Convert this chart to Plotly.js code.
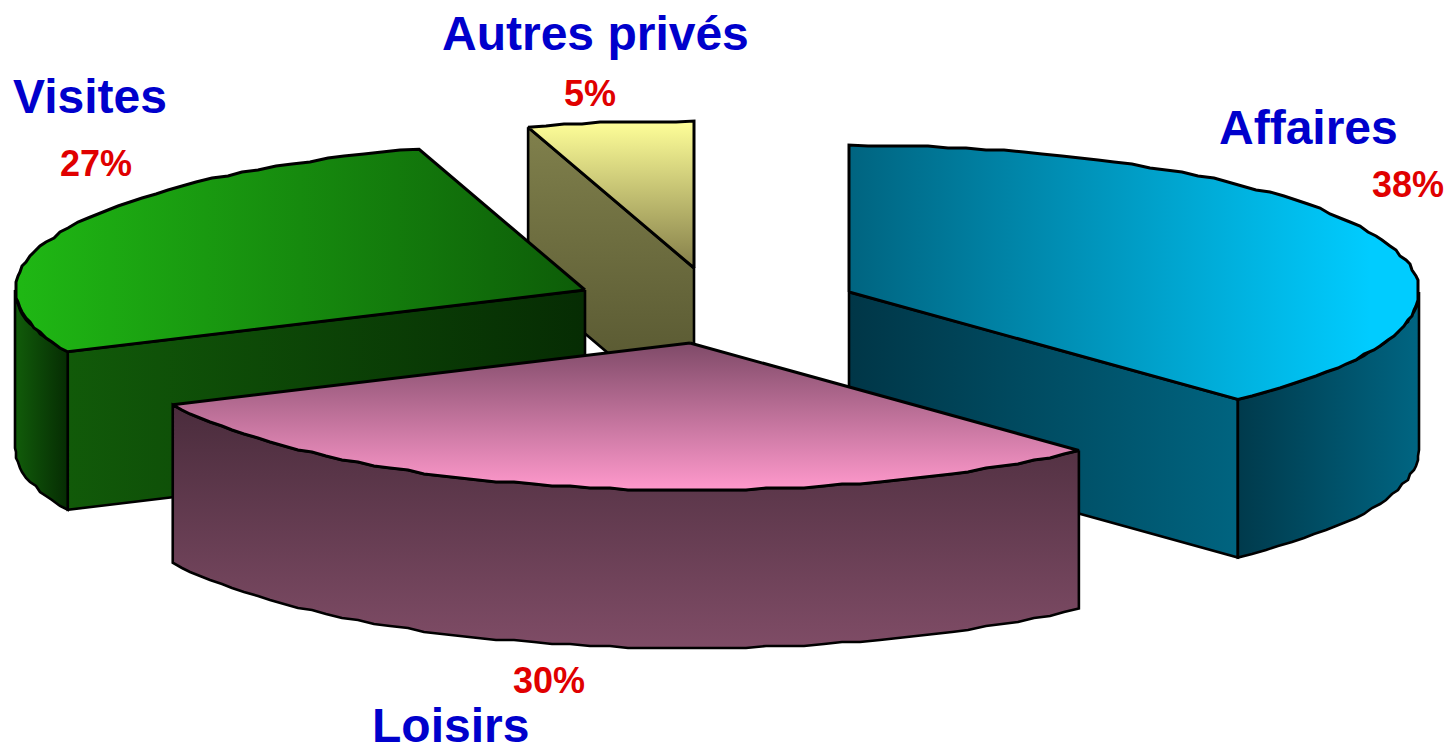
<!DOCTYPE html>
<html>
<head>
<meta charset="utf-8">
<script src="https://cdn.plot.ly/plotly-3.0.1.min.js"></script>
<style>html,body{margin:0;padding:0;background:#fff;overflow:hidden}#chart{width:1448px;height:746px}</style>
</head>
<body>
<div id="chart"></div>
<script>
// Data
const categories = ["Affaires", "Loisirs", "Visites", "Autres privés"];
const shares = [38.05, 30.05, 27.2, 4.7];

// Exploded apex of each slice (pie plane, in axis units)
const apexX = [849, 690, 585, 694];
const apexY = [292, 343, 290, 268];
const radiusX = 570, radiusY = 147, depth = 158;

// Gradient colours per slice
const topFrom  = ["#006480", "#7f4a68", "#1fb814", "#ffff99"];
const topTo    = ["#00ccff", "#ff99cc", "#0d5c08", "#857f4a"];
const sideFrom = ["#003a4c", "#4a2c3c", "#115c0a", "#80804c"];
const sideTo   = ["#006582", "#7f4c66", "#062c03", "#50502c"];
const faceFrom = ["#003647", null, "#115a09", "#80804c"];
const faceTo   = ["#006480", null, "#062c03", "#50502c"];
const topGradientStop = [1370, null, null, null];

// Label placement
const nameX = [1308, 450, 90, 595];
const nameY = [127, 725, 96, 33];
const pctX = [1408, 549, 96, 590];
const pctY = [184, 680, 163, 93];

const total = shares.reduce((a, b) => a + b, 0);
const startAngle = [], endAngle = [];
let acc = 0;
shares.forEach(s => { startAngle.push(acc); acc += s / total * 360; endAngle.push(acc); });

const grid = 2;
const snap = v => Math.round(v / grid) * grid;
function rimPoint(i, deg, drop) {
  const r = deg * Math.PI / 180;
  return [apexX[i] + radiusX * Math.sin(r), apexY[i] - radiusY * Math.cos(r) + drop];
}
function arc(i, a0, a1, drop) {
  const pts = [], n = Math.max(1, Math.ceil(Math.abs(a1 - a0) / 2));
  for (let k = 0; k <= n; k++) {
    const p = rimPoint(i, a0 + (a1 - a0) * k / n, drop);
    pts.push(k === 0 || k === n ? p : [snap(p[0]), snap(p[1])]);
  }
  return pts;
}
function poly(pts, name, type, from, to, width, stop) {
  const c = pts.concat([pts[0]]);
  // the y axis runs downwards, so a vertical gradient is given bottom colour first
  const scale = type === "vertical" ? [[0, to], [1, from]] : [[0, from], [1, to]];
  const gradient = {type: type, colorscale: scale};
  if (stop) gradient.stop = stop;
  return {
    type: "scatter", mode: "lines", name: name, hoverinfo: "skip", showlegend: false, cliponaxis: false,
    x: c.map(p => p[0]), y: c.map(p => p[1]),
    line: {color: "#000", width: width || 2.6, simplify: false},
    fill: "toself",
    fillgradient: gradient
  };
}
function reversed(a) { return a.slice().reverse(); }

const traces = [];
// back-to-front painter order: Autres privés, Visites, Affaires, Loisirs
[3, 2, 0, 1].forEach(i => {
  const a0 = startAngle[i], a1 = endAngle[i], name = categories[i];
  const apex = [apexX[i], apexY[i]];
  if (i === 3) {
    const e = rimPoint(i, a0, 0);
    traces.push(poly([e, apex, [apex[0], apex[1] + depth], [e[0], e[1] + depth]], name, "vertical", sideFrom[i], sideTo[i]));
  }
  if (i === 2) {
    const e = rimPoint(i, a0, 0);
    traces.push(poly([apex, e, [e[0], e[1] + depth], [apex[0], apex[1] + depth]], name, "horizontal", faceFrom[i], faceTo[i]));
    traces.push(poly(arc(i, a0, 270, 0).concat(reversed(arc(i, a0, 270, depth))), name, "horizontal", sideFrom[i], sideTo[i]));
  }
  if (i === 0) {
    const e = rimPoint(i, a1, 0);
    traces.push(poly([apex, e, [e[0], e[1] + depth], [apex[0], apex[1] + depth]], name, "horizontal", faceFrom[i], faceTo[i]));
    traces.push(poly(arc(i, 90, a1, 0).concat(reversed(arc(i, 90, a1, depth))), name, "horizontal", sideFrom[i], sideTo[i]));
  }
  if (i === 1) {
    traces.push(poly(arc(i, a0, a1, 0).concat(reversed(arc(i, a0, a1, depth))), name, "vertical", sideFrom[i], sideTo[i]));
  }
  traces.push(poly([apex].concat(arc(i, a0, a1, 0)), name, i === 1 || i === 3 ? "vertical" : "horizontal", topFrom[i], topTo[i], 3, topGradientStop[i]));
});

const annotations = [];
categories.forEach((c, i) => {
  annotations.push({x: nameX[i], y: nameY[i], text: c, showarrow: false, xanchor: "center", yanchor: "middle",
    font: {family: "Liberation Sans, Arial, sans-serif", size: 48, color: "#0000cc", weight: 700}});
  annotations.push({x: pctX[i], y: pctY[i], text: Math.round(shares[i]) + "%", showarrow: false, xanchor: "center", yanchor: "middle",
    font: {family: "Liberation Sans, Arial, sans-serif", size: 36, color: "#e00000", weight: 700}});
});

Plotly.newPlot("chart", traces, {
  width: 1448, height: 746,
  margin: {l: 0, r: 0, t: 0, b: 0},
  paper_bgcolor: "#fff", plot_bgcolor: "#fff",
  showlegend: false,
  xaxis: {range: [0, 1448], visible: false, fixedrange: true},
  yaxis: {range: [746, 0], visible: false, fixedrange: true},
  annotations: annotations
}, {displayModeBar: false, staticPlot: true});
</script>
</body>
</html>
